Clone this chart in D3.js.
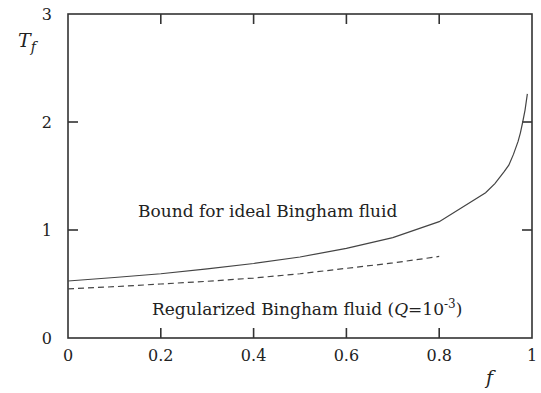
<!DOCTYPE html>
<html>
<head>
<meta charset="utf-8">
<script src="https://cdn.jsdelivr.net/npm/d3@7"></script>
<style>
  body { margin: 0; background: #fff; }
</style>
</head>
<body>
<svg id="chart" width="541" height="393"></svg>
<script>
// bound for ideal Bingham fluid (solid)
const boundF = [0, 0.1, 0.2, 0.3, 0.4, 0.5, 0.6, 0.7, 0.8, 0.9, 0.92, 0.94, 0.95, 0.96, 0.97, 0.975, 0.98, 0.985, 0.99];
const boundT = [0.528, 0.56, 0.595, 0.64, 0.69, 0.75, 0.83, 0.93, 1.077, 1.345, 1.43, 1.54, 1.6, 1.7, 1.82, 1.9, 2.0, 2.11, 2.26];

// regularized Bingham fluid, Q = 1e-3 (dashed)
const regF = [0, 0.1, 0.2, 0.3, 0.4, 0.5, 0.6, 0.7, 0.8];
const regT = [0.455, 0.475, 0.5, 0.525, 0.555, 0.595, 0.645, 0.695, 0.755];

const xTicks = [0, 0.2, 0.4, 0.6, 0.8, 1];
const yTicks = [0, 1, 2, 3];

const FONT = "DejaVu Serif";

const svg = d3.select("#chart");
const margin = { top: 14, right: 9, bottom: 55, left: 68 };
const width = 541 - margin.left - margin.right;
const height = 393 - margin.top - margin.bottom;

const x = d3.scaleLinear().domain([0, 1]).range([margin.left, margin.left + width]);
const y = d3.scaleLinear().domain([0, 3]).range([margin.top + height, margin.top]);

const axisColor = "#333";
const tickLen = 10;

// frame
svg.append("rect")
    .attr("x", x(0)).attr("y", y(3))
    .attr("width", width).attr("height", height)
    .attr("fill", "none").attr("stroke", axisColor).attr("stroke-width", 1.6);

// inward ticks, mirrored on opposite sides
const g = svg.append("g").attr("stroke", axisColor).attr("stroke-width", 1.6);
xTicks.slice(1, -1).forEach(t => {
    g.append("line").attr("x1", x(t)).attr("x2", x(t)).attr("y1", y(0)).attr("y2", y(0) - tickLen);
    g.append("line").attr("x1", x(t)).attr("x2", x(t)).attr("y1", y(3)).attr("y2", y(3) + tickLen);
});
yTicks.slice(1, -1).forEach(t => {
    g.append("line").attr("x1", x(0)).attr("x2", x(0) + tickLen).attr("y1", y(t)).attr("y2", y(t));
    g.append("line").attr("x1", x(1)).attr("x2", x(1) - tickLen).attr("y1", y(t)).attr("y2", y(t));
});

const texts = svg.append("g").style("font-family", FONT).attr("fill", "#222");

// tick labels
texts.selectAll(".xlab")
    .data(xTicks)
    .enter().append("text")
    .attr("class", "xlab")
    .attr("x", d => x(d))
    .attr("y", y(0) + 23)
    .attr("text-anchor", "middle")
    .attr("font-size", 16)
    .text(d => d === 0 || d === 1 ? d : d.toFixed(1));

texts.selectAll(".ylab")
    .data(yTicks)
    .enter().append("text")
    .attr("class", "ylab")
    .attr("x", x(0) - 16)
    .attr("y", d => y(d) + 6)
    .attr("text-anchor", "end")
    .attr("font-size", 16)
    .text(d => d);

// axis titles
const yt = texts.append("text").attr("x", 18).attr("y", 47).attr("font-size", 19).attr("font-style", "italic");
yt.append("tspan").text("T");
yt.append("tspan").attr("dy", 5).attr("font-size", 14).text("f");

texts.append("text")
    .attr("x", 486).attr("y", 384)
    .attr("font-size", 19).attr("font-style", "italic")
    .text("f");

// curves
const line = d3.line().x(d => x(d[0])).y(d => y(d[1]));

svg.append("path")
    .datum(boundF.map((f, i) => [f, boundT[i]]))
    .attr("d", line)
    .attr("fill", "none").attr("stroke", "#444").attr("stroke-width", 1.2);

svg.append("path")
    .datum(regF.map((f, i) => [f, regT[i]]))
    .attr("d", line)
    .attr("fill", "none").attr("stroke", "#444").attr("stroke-width", 1.2)
    .attr("stroke-dasharray", "6,4");

// annotations
texts.append("text")
    .attr("x", 138).attr("y", 217)
    .attr("font-size", 17)
    .text("Bound for ideal Bingham fluid");

const reg = texts.append("text")
    .attr("x", 152).attr("y", 315)
    .attr("font-size", 17);
reg.append("tspan").text("Regularized Bingham fluid (");
reg.append("tspan").attr("font-style", "italic").text("Q");
reg.append("tspan").text("=10");
reg.append("tspan").attr("dy", -7).attr("font-size", 12).text("-3");
reg.append("tspan").attr("dy", 7).text(")");
</script>
</body>
</html>
